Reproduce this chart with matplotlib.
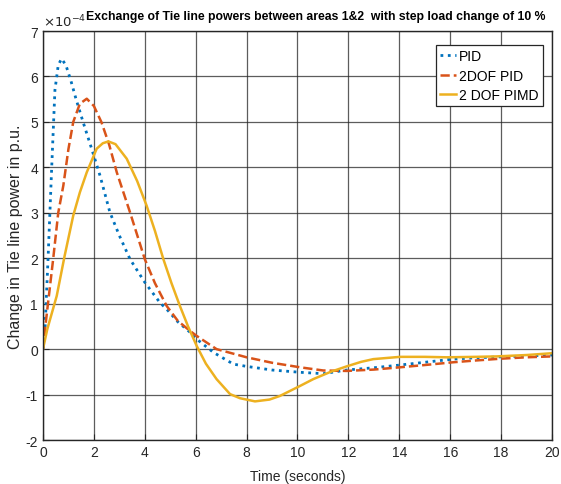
import numpy as np
from matplotlib import pyplot as plt
from matplotlib import font_manager

# values, in units of 1e-4 p.u.
t_pid = [0, 0.08, 0.21, 0.34, 0.47, 0.6, 0.73, 0.9, 1.1, 1.3, 1.58, 1.98, 2.24, 2.63, 3.0, 3.42, 4.0,
         4.6, 4.86, 5.3, 5.78, 6.04, 6.69, 7.48, 8.0, 9.0, 10.1, 11.01, 11.93, 13.0, 14.03, 15.0, 16.1,
         17.0, 18.0, 19.0, 20.0]
pid = [0, 0.44, 2.13, 3.96, 5.7, 6.25, 6.39, 6.25, 5.9, 5.5, 4.99, 4.29, 3.82, 3.01, 2.5, 1.98, 1.47,
       1.02, 0.88, 0.6, 0.37, 0.22, -0.07, -0.33, -0.38, -0.46, -0.51, -0.54, -0.46, -0.41, -0.35, -0.29,
       -0.22, -0.19, -0.17, -0.15, -0.13]

t_2dof = [0, 0.08, 0.4, 0.6, 0.8, 1.0, 1.19, 1.45, 1.72, 2.0, 2.3, 2.6, 2.9, 3.42, 4.0, 4.4, 4.86,
          5.3, 5.78, 6.04, 6.82, 8.0, 9.0, 10.1, 11.01, 11.93, 13.0, 14.03, 15.0, 16.1, 17.0, 18.0, 19.0, 20.0]
dof2 = [0, 0.44, 1.98, 3.0, 3.6, 4.4, 5.0, 5.4, 5.51, 5.35, 4.99, 4.5, 3.89, 3.01, 1.98, 1.45, 0.95,
        0.62, 0.40, 0.29, 0.0, -0.18, -0.3, -0.40, -0.47, -0.48, -0.45, -0.40, -0.35, -0.29, -0.25, -0.21,
        -0.18, -0.16]

t_pimd = [0, 0.17, 0.54, 0.85, 1.19, 1.45, 1.72, 2.11, 2.35, 2.57, 2.85, 3.29, 3.7, 4.07, 4.4, 4.73, 5.05,
          5.38, 5.7, 6.04, 6.4, 6.82, 7.35, 7.74, 8.33, 8.9, 9.31, 10.1, 10.62, 11.3, 11.93, 12.5, 12.98, 14.03,
          15.0, 15.86, 17.0, 17.83, 19.0, 20.0]
pimd = [0, 0.44, 1.17, 2.05, 2.94, 3.45, 3.89, 4.41, 4.53, 4.57, 4.51, 4.19, 3.7, 3.16, 2.6, 1.98, 1.45,
        0.95, 0.5, 0.07, -0.32, -0.66, -0.99, -1.08, -1.15, -1.11, -1.03, -0.81, -0.66, -0.5, -0.38, -0.28,
        -0.22, -0.17, -0.17, -0.18, -0.17, -0.16, -0.13, -0.09]

names = ['PID', '2DOF PID', '2 DOF PIMD']

avail = {f.name for f in font_manager.fontManager.ttflist}
fam = [f for f in ['Liberation Sans Narrow', 'Liberation Sans', 'DejaVu Sans'] if f in avail]
plt.rcParams['font.family'] = fam
plt.rcParams['axes.unicode_minus'] = False

fig = plt.figure(figsize=(5.61, 4.85), dpi=100)
ax = fig.add_axes([0.0766, 0.0907, 0.9074, 0.8433])

ax.plot(t_pid, pid, ':', color='#0072BD', lw=2, label=names[0])
ax.plot(t_2dof, dof2, '--', color='#D95319', lw=1.8, label=names[1])
ax.plot(t_pimd, pimd, '-', color='#EDB120', lw=1.8, label=names[2])

ax.set_xlim(0, 20)
ax.set_ylim(-2, 7)
ax.set_xticks(range(0, 21, 2))
ax.set_yticks(range(-2, 8))
ax.grid(True, color='#262626', lw=0.9, alpha=0.75)
ax.tick_params(direction='in', labelsize=10, colors='#262626', length=4)
for s in ax.spines.values():
    s.set_color('#262626')
    s.set_linewidth(1.0)

ax.text(0.0, 1.003, r'$\times10^{-4}$', transform=ax.transAxes, fontsize=9.5, color='#262626',
        ha='left', va='bottom')
fig.text(0.562, 0.965, 'Exchange of Tie line powers between areas 1&2  with step load change of 10 %',
         fontsize=8.8, fontweight='bold', ha='center', va='center')
ax.set_xlabel('Time (seconds)', fontsize=10, color='#262626', labelpad=7)
ax.set_ylabel('Change in Tie line power in p.u.', fontsize=11.5, color='#262626', labelpad=2)

leg = ax.legend(loc='upper right', bbox_to_anchor=(0.982, 0.966), fontsize=10, handlelength=1.2,
                handletextpad=0.2, borderpad=0.3, labelspacing=0.4, fancybox=False, framealpha=1,
                borderaxespad=0)
leg.get_frame().set_edgecolor('#262626')
leg.get_frame().set_linewidth(0.9)

fig.savefig('out.png', dpi=100)
